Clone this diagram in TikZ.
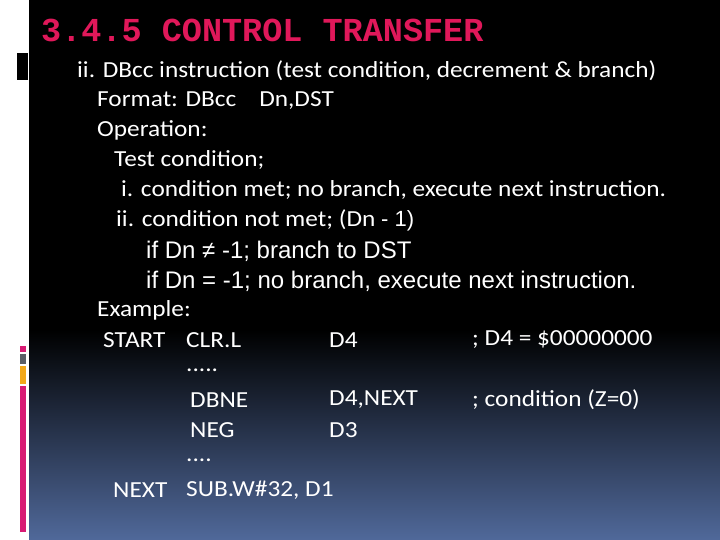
\documentclass[tikz,border=0pt]{standalone}
\usepackage{fontspec}
\setmainfont{Carlito}[FakeStretch=1.1]
\newfontfamily\arl{Liberation Sans}
\newfontfamily\ttl{Liberation Mono}
\definecolor{pinkred}{HTML}{E0185A}
\definecolor{bluebot}{HTML}{50699A}
\definecolor{barpink}{HTML}{D81B74}
\definecolor{bargray}{HTML}{5A5E66}
\definecolor{barorange}{HTML}{F2A81A}
\begin{document}
\begin{tikzpicture}[x=1pt,y=-1pt,
  txt/.style={anchor=west,text=white,font=\fontsize{23}{23}\selectfont,inner sep=0pt},
  atxt/.style={anchor=west,text=white,font=\arl\fontsize{24}{24}\selectfont,inner sep=0pt}]
\useasboundingbox (0,0) rectangle (720,540);
\fill[white] (0,0) rectangle (720,540);
\fill[black] (29,0) rectangle (720,330);
\shade[top color=black,bottom color=bluebot] (29,330) rectangle (720,540);
\fill[black] (17,53) rectangle (28,80);
\fill[barpink] (20,346) rectangle (26,352);
\fill[bargray] (20,354) rectangle (26,364);
\fill[barorange] (20,366) rectangle (26,384);
\fill[barpink] (20,386) rectangle (26,532);
\node[anchor=west,inner sep=0pt,text=pinkred,font=\ttl\bfseries\fontsize{33.5}{33.5}\selectfont] (title) at (41,30) {3.4.5 CONTROL TRANSFER};
\node[txt] (l1) at (77,71) {ii. DBcc instruction (test condition, decrement \& branch)};
\node[txt] (l2) at (97,101) {Format: DBcc\quad Dn,DST};
\node[txt] (l3) at (97,130) {Operation:};
\node[txt] (l4) at (114,160) {Test condition;};
\node[txt] (l5) at (121,190) {i. condition met; no branch, execute next instruction.};
\node[txt] (l6) at (116,220) {ii. condition not met; (Dn {\arl\fontsize{22}{22}\selectfont - 1)}};
\node[atxt] (l7) at (146,251) {if Dn ≠ -1; branch to DST};
\node[atxt] (l8) at (146,281) {if Dn = -1; no branch, execute next instruction.};
\node[txt] (l9) at (97,310) {Example:};
\node[txt] (s1) at (103,340) {START};
\node[txt] (s2) at (186,340) {CLR.L};
\node[txt] (s3) at (329,340) {D4};
\node[txt] (s4) at (472,340) {; D4 = \$00000000};
\node[txt] (d1) at (186,370) {.....};
\node[txt] (n1) at (190,400) {DBNE};
\node[txt] (n2) at (329,400) {D4,NEXT};
\node[txt] (n3) at (472,400) {; condition (Z=0)};
\node[txt] (g1) at (190,430) {NEG};
\node[txt] (g2) at (329,430) {D3};
\node[txt] (d2) at (186,460) {....};
\node[txt] (x1) at (113,490) {NEXT};
\node[txt] (x2) at (186,490) {SUB.W\#32, D1};
\end{tikzpicture}
\end{document}
